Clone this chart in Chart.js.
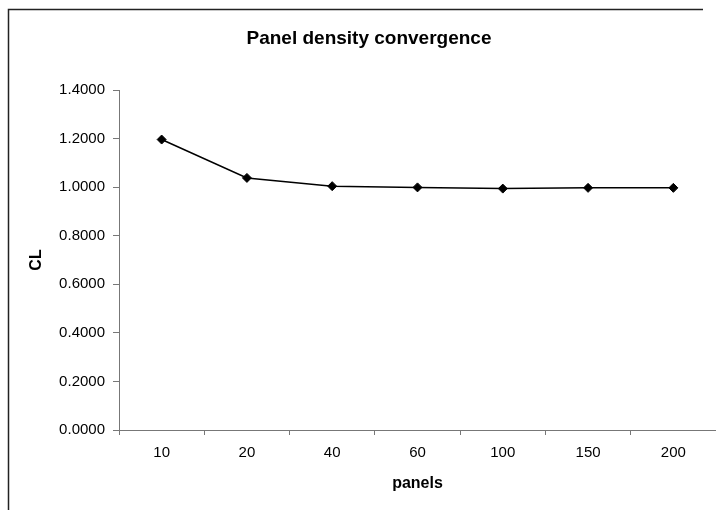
<!DOCTYPE html>
<html>
<head>
<meta charset="utf-8">
<script src="https://cdn.jsdelivr.net/npm/chart.js@4"></script>
<style>
  html, body { margin: 0; padding: 0; background: #fff; }
  #wrap { width: 716px; height: 510px; position: relative; }
</style>
</head>
<body>
<div id="wrap"><canvas id="chart" width="716" height="510"></canvas></div>
<script>
var panels = ['10', '20', '40', '60', '100', '150', '200'];
var clValues = [1.196, 1.038, 1.004, 0.999, 0.994, 0.997, 0.997];
var yTicks = [0, 0.2, 0.4, 0.6, 0.8, 1.0, 1.2, 1.4];

var fontFamily = '"Liberation Sans", Arial, sans-serif';

// outer frame of the chart (top and left edges only show in the scan)
var framePlugin = {
  id: 'frame',
  beforeDraw: function(chart) {
    var ctx = chart.ctx;
    ctx.save();
    ctx.strokeStyle = '#222';
    ctx.lineWidth = 1.5;
    ctx.beginPath();
    ctx.moveTo(8.5, 510);
    ctx.lineTo(8.5, 9.5);
    ctx.lineTo(703, 9.5);
    ctx.stroke();
    ctx.restore();
  }
};

var ctx = document.getElementById('chart').getContext('2d');
var chart = new Chart(ctx, {
  type: 'line',
  data: {
    labels: panels,
    datasets: [{
      label: 'CL',
      data: clValues,
      borderColor: '#000',
      borderWidth: 1.5,
      backgroundColor: '#000',
      pointStyle: 'rectRot',
      pointRadius: 4.5,
      pointBorderWidth: 1,
      tension: 0
    }]
  },
  options: {
    responsive: false,
    animation: false,
    layout: { autoPadding: false, padding: { left: 22, right: 0, top: 0, bottom: 0 } },
    plugins: {
      legend: { display: false },
      tooltip: { enabled: false },
      title: {
        display: true,
        text: 'Panel density convergence',
        color: '#000',
        font: { family: fontFamily, size: 19, weight: 'bold' },
        padding: { top: 27, bottom: 40.2 }
      }
    },
    scales: {
      x: {
        offset: true,
        grid: { offset: true, drawOnChartArea: false, tickLength: 5, color: '#777' },
        border: { color: '#777', width: 1 },
        ticks: { color: '#000', padding: 9, font: { family: fontFamily, size: 15 } },
        title: {
          display: true,
          text: 'panels',
          color: '#000',
          font: { family: fontFamily, size: 16, weight: 'bold' },
          padding: { top: 0, bottom: 16.4 }
        },
        afterFit: function(scale) {
          scale.height = 80;
          // let the axis run to the right edge like the original
          scale.paddingLeft = 0;
          scale.paddingRight = 0;
        }
      },
      y: {
        min: 0,
        max: 1.4,
        afterBuildTicks: function(scale) {
          scale.ticks = yTicks.map(function(v) { return { value: v }; });
        },
        grid: { drawOnChartArea: false, tickLength: 6, color: '#777' },
        border: { color: '#777', width: 1 },
        ticks: {
          color: '#000',
          padding: 8,
          font: { family: fontFamily, size: 15 },
          callback: function(v) { return Number(v).toFixed(4); }
        },
        title: {
          display: true,
          text: 'CL',
          color: '#000',
          font: { family: fontFamily, size: 16, weight: 'bold' },
          padding: { top: 5.4, bottom: 0 }
        },
        afterFit: function(scale) { scale.width = 97; }
      }
    }
  },
  plugins: [framePlugin]
});
</script>
</body>
</html>
